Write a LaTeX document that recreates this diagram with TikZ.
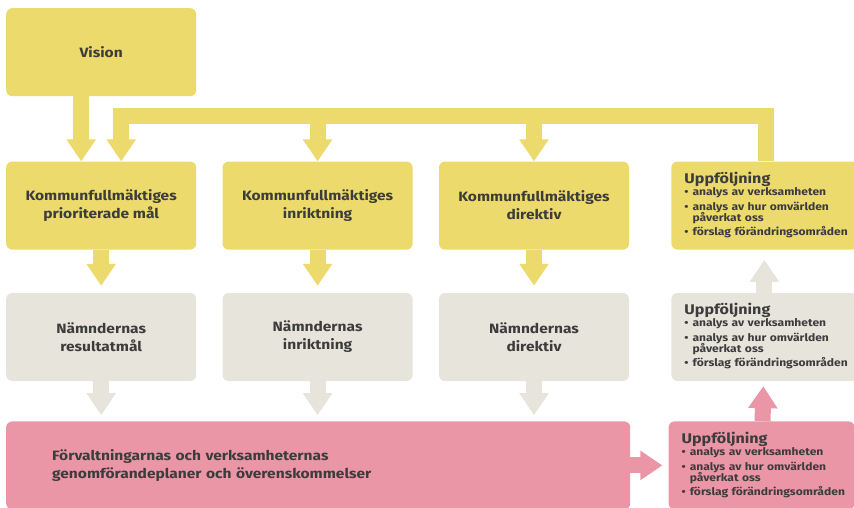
\documentclass[tikz,border=0pt]{standalone}
\usepackage{fontspec}
\setmainfont[FakeStretch=1.15]{Fira Sans}
\usetikzlibrary{positioning}
\usetikzlibrary{arrows.meta}

\definecolor{gul}{RGB}{236,218,108}
\definecolor{gra}{RGB}{231,228,220}
\definecolor{rosa}{RGB}{234,150,166}
\definecolor{txt}{RGB}{60,60,60}

\newcommand{\uppfoljning}{%
\begin{tabular}{@{}l@{\hspace{4pt}}l@{}}
\multicolumn{2}{@{}l@{}}{\fontsize{14}{14}\selectfont Uppföljning}\\[-1pt]
\textbullet & analys av verksamheten\\[2pt]
\textbullet & analys av hur omvärlden\\[-2pt]
 & påverkat oss\\[1pt]
\textbullet & förslag förändringsområden
\end{tabular}}

\begin{document}
\begin{tikzpicture}[x=1pt,y=-1pt,node distance=43pt and 26pt,
ruta/.style={rounded corners=6pt,minimum width=190pt,minimum height=88pt,inner sep=0pt,
  align=center,text=txt,font=\bfseries\fontsize{13.5}{18}\selectfont},
gulruta/.style={ruta,fill=gul},
graruta/.style={ruta,fill=gra},
rosaruta/.style={ruta,fill=rosa},
uppf/.style={minimum width=186pt,text width=160pt,align=left,font=\bfseries\fontsize{10.5}{13}\selectfont},
pil/.style={line width=16pt,line join=miter,-{Triangle[width=28pt,length=22pt]}},
gulpil/.style={pil,draw=gul},
grapil/.style={pil,draw=gra},
rosapil/.style={pil,draw=rosa}
]
\useasboundingbox (0,0) rectangle (854,507);
%--
\node[gulruta,anchor=north west](vision) at (6,8){Vision};
\node[gulruta,below=65pt of vision](kfmal){Kommunfullmäktiges\\prioriterade mål};
\node[gulruta,right=of kfmal](kfinr){Kommunfullmäktiges\\inriktning};
\node[gulruta,right=of kfinr](kfdir){Kommunfullmäktiges\\direktiv};
\node[gulruta,uppf,right=42pt of kfdir](uppgul){\uppfoljning};
%--
\node[graruta,below=of kfmal](nmal){Nämndernas\\resultatmål};
\node[graruta,below=of kfinr](ninr){Nämndernas\\inriktning};
\node[graruta,below=of kfdir](ndir){Nämndernas\\direktiv};
\node[graruta,uppf,right=42pt of ndir](uppgra){\uppfoljning};
%--
\node[rosaruta,below=40pt of nmal.south west,anchor=north west,minimum width=624pt,
  text width=532pt,align=left](fv){Förvaltningarnas och verksamheternas\\genomförandeplaner och överenskommelser};
\node[rosaruta,uppf,right=38pt of fv](upprosa){\uppfoljning};
%--
\coordinate[above=45pt of uppgul.north](horn);
\draw[gulpil]([xshift=-20pt]vision.south) -- ([xshift=-20pt]kfmal.north);
\draw[gulpil]([xshift=2pt]uppgul.north) -- ([xshift=2pt]horn) -| ([xshift=20pt]kfmal.north);
\draw[gulpil](kfinr.north |- horn) -- (kfinr.north);
\draw[gulpil](kfdir.north |- horn) -- (kfdir.north);
%--
\draw[gulpil,shorten >=7pt](kfmal) -- (nmal);
\draw[gulpil,shorten >=7pt](kfinr) -- (ninr);
\draw[gulpil,shorten >=7pt](kfdir) -- (ndir);
%--
\draw[grapil,shorten >=6pt](nmal.south) -- (nmal.south |- fv.north);
\draw[grapil,shorten >=6pt](ninr.south) -- (ninr.south |- fv.north);
\draw[grapil,shorten >=6pt](ndir.south) -- (ndir.south |- fv.north);
%--
\draw[rosapil,shorten >=6pt](fv) -- (upprosa);
\draw[rosapil,shorten >=5pt](upprosa) -- (uppgra);
\draw[grapil,shorten >=10pt](uppgra) -- (uppgul);
\end{tikzpicture}
\end{document}
